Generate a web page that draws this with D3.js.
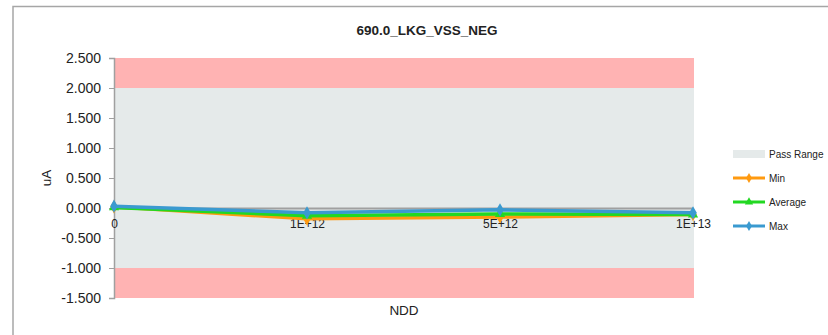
<!DOCTYPE html>
<html>
<head>
<meta charset="utf-8">
<script src="https://cdn.jsdelivr.net/npm/d3@7"></script>
<style>
  body { margin: 0; background: #fff; }
  svg { display: block; font-family: "Liberation Sans", Arial, sans-serif; }
</style>
</head>
<body>
<svg id="chart" width="828" height="335"></svg>
<script>
const categories = ['0', '1E+12', '5E+12', '1E+13'];
const minValues = [0.02, -0.18, -0.15, -0.11];
const avgValues = [0.01, -0.13, -0.10, -0.11];
const maxValues = [0.03, -0.08, -0.03, -0.08];
const yTicks = [2.5, 2.0, 1.5, 1.0, 0.5, 0.0, -0.5, -1.0, -1.5];
const passLow = -1.0, passHigh = 2.0;

const series = [
  { name: 'Min', values: minValues, color: '#ff9a10', marker: 'diamond' },
  { name: 'Average', values: avgValues, color: '#22d822', marker: 'triangle' },
  { name: 'Max', values: maxValues, color: '#3a9ad0', marker: 'diamond' },
];

const svg = d3.select('#chart');
const plotLeft = 114, plotRight = 694, plotTop = 58, plotBottom = 298;

// chart frame
svg.append('rect')
  .attr('x', 13).attr('y', 6.5).attr('width', 830).attr('height', 340)
  .attr('fill', 'none').attr('stroke', '#a6a6a6').attr('stroke-width', 1.5);

const x = d3.scalePoint().domain(categories).range([plotLeft, plotRight - 1]);
const y = d3.scaleLinear().domain([-1.5, 2.5]).range([plotBottom, plotTop]);

// bands
svg.append('rect').attr('x', plotLeft).attr('width', plotRight - plotLeft)
  .attr('y', y(2.5)).attr('height', y(passHigh) - y(2.5)).attr('fill', '#ffb3b3');
svg.append('rect').attr('x', plotLeft).attr('width', plotRight - plotLeft)
  .attr('y', y(passHigh)).attr('height', y(passLow) - y(passHigh)).attr('fill', '#e5eaea');
svg.append('rect').attr('x', plotLeft).attr('width', plotRight - plotLeft)
  .attr('y', y(passLow)).attr('height', y(-1.5) - y(passLow)).attr('fill', '#ffb3b3');

// y axis (Excel style hyphen minus)
const fmt = d => d3.format('.3f')(d).replace('\u2212', '-');
const yAxis = svg.append('g')
  .attr('transform', `translate(${plotLeft},0)`)
  .call(d3.axisLeft(y).tickValues(yTicks).tickFormat(fmt).tickSize(5).tickPadding(8));
yAxis.select('.domain').attr('stroke', '#a0a0a0').attr('stroke-width', 1.5);
yAxis.selectAll('.tick line').attr('stroke', '#a0a0a0');
yAxis.selectAll('.tick text').attr('font-size', 14).attr('fill', '#222')
  .attr('font-family', '"Liberation Sans", Arial, sans-serif');

// x axis at zero
const xAxis = svg.append('g')
  .attr('transform', `translate(0,${y(0)})`)
  .call(d3.axisBottom(x).tickSize(0).tickPadding(11));
xAxis.select('.domain').attr('stroke', '#a0a0a0').attr('stroke-width', 2);
xAxis.selectAll('.tick text').attr('font-size', 12).attr('fill', '#222')
  .attr('font-family', '"Liberation Sans", Arial, sans-serif');

// lines
const line = d3.line().x((d, i) => x(categories[i])).y(d => y(d));
const symbolFor = m => m === 'triangle' ? d3.symbolTriangle : d3.symbolDiamond;

series.forEach(s => {
  svg.append('path').datum(s.values)
    .attr('d', line).attr('fill', 'none')
    .attr('stroke', s.color).attr('stroke-width', 3.5).attr('stroke-linejoin', 'round');
  svg.append('g').selectAll('path').data(s.values).join('path')
    .attr('d', d3.symbol().type(symbolFor(s.marker)).size(s.marker === 'triangle' ? 45 : 50))
    .attr('transform', (d, i) => `translate(${x(categories[i])},${y(d)})`)
    .attr('fill', s.color);
});

// title and axis titles
svg.append('text').attr('x', 427).attr('y', 35).attr('text-anchor', 'middle')
  .attr('font-size', 13.5).attr('font-weight', 'bold').attr('fill', '#222')
  .text('690.0_LKG_VSS_NEG');
svg.append('text').attr('x', 404).attr('y', 315).attr('text-anchor', 'middle')
  .attr('font-size', 13.5).attr('fill', '#222').text('NDD');
svg.append('text').attr('transform', 'translate(51,178) rotate(-90)').attr('text-anchor', 'middle')
  .attr('font-size', 13.5).attr('fill', '#222').text('uA');

// legend
const legend = svg.append('g');
legend.append('rect').attr('x', 733).attr('y', 150).attr('width', 32).attr('height', 8).attr('fill', '#e5eaea');
legend.append('text').attr('x', 769).attr('y', 158).attr('font-size', 10).attr('fill', '#222').text('Pass Range');
series.forEach((s, i) => {
  const ly = 178 + i * 24;
  legend.append('line').attr('x1', 733).attr('x2', 765).attr('y1', ly).attr('y2', ly)
    .attr('stroke', s.color).attr('stroke-width', 3);
  legend.append('path')
    .attr('d', d3.symbol().type(symbolFor(s.marker)).size(30))
    .attr('transform', `translate(749,${ly})`).attr('fill', s.color);
  legend.append('text').attr('x', 769).attr('y', ly + 4).attr('font-size', 10).attr('fill', '#222').text(s.name);
});
</script>
</body>
</html>
